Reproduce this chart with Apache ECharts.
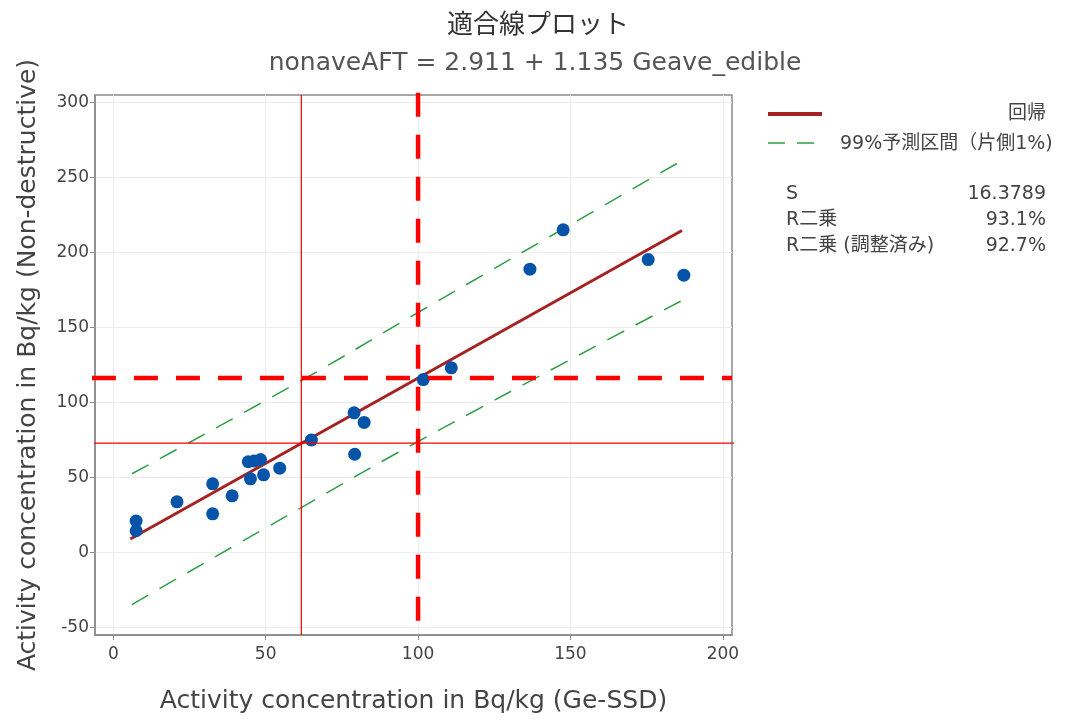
<!DOCTYPE html>
<html>
<head>
<meta charset="utf-8">
<script src="https://cdn.jsdelivr.net/npm/echarts@6/dist/echarts.min.js"></script>
<style>html,body{margin:0;padding:0;background:#fff}#c{width:1065px;height:719px}</style>
</head>
<body>
<div id="c"></div>
<script>
// Observed data
const geX = [7.5, 7.5, 20.9, 32.6, 32.6, 39.0, 44.3, 46.2, 48.3, 45.0, 49.3, 54.6, 65.0, 79.0, 82.3, 79.2, 101.7, 110.9, 136.7, 147.6, 175.5, 187.2];
const ndY = [21.0, 14.5, 33.8, 45.8, 25.8, 37.8, 60.5, 61.0, 62.0, 49.1, 51.8, 56.2, 75.0, 93.1, 86.7, 65.5, 115.3, 123.1, 188.9, 215.1, 195.3, 184.9];
// Fitted line
const fitX = [5.6, 186.6];
const fitY = [9.0, 214.7];
// 99% prediction interval
const piX = [6.1, 62, 100, 186.6];
const piUpper = [52.5, 115.0, 160.0, 261.3];
const piLower = [-34.7, 30.3, 74.0, 168.0];
// Reference lines
const thinRefX = 61.7, thinRefY = 72.9;
const dashRefX = 100, dashRefY = 116.4;
// Axis ranges and ticks
const xMin = -6, xMax = 203, yMin = -55, yMax = 305;
const xTicks = [0, 50, 100, 150, 200];
const yTicks = [-50, 0, 50, 100, 150, 200, 250, 300];
// Texts
const titleText = '適合線プロット';
const subtitleText = 'nonaveAFT = 2.911 + 1.135 Geave_edible';
const xName = 'Activity concentration in Bq/kg (Ge-SSD)';
const yName = 'Activity concentration in Bq/kg (Non-destructive)';
const legendNames = ['回帰', '99%予測区間（片側1%)'];
const statNames = ['S', 'R二乗', 'R二乗 (調整済み)'];
const statValues = ['16.3789', '93.1%', '92.7%'];

const zip = (a, b) => a.map((v, i) => [v, b[i]]);
const FONT = '"DejaVu Sans", "Noto Sans CJK JP", sans-serif';
const LFONT = '"Noto Sans CJK JP", sans-serif';
const TXT = '#444';
const RED = '#ff0000';
const chart = echarts.init(document.getElementById('c'), null, {renderer: 'canvas'});

const LEG = '19px ' + FONT;
const graphics = [
  {type: 'line', shape: {x1: 768, y1: 114, x2: 822, y2: 114}, style: {stroke: '#a52222', lineWidth: 4}},
  {type: 'text', style: {x: 1046, y: 114, text: legendNames[0], align: 'right', verticalAlign: 'middle', fill: TXT, font: LEG}},
  {type: 'line', shape: {x1: 768, y1: 143, x2: 822, y2: 143}, style: {stroke: '#2f9e44', lineWidth: 1.5, lineDash: [17, 12]}},
  {type: 'text', style: {x: 840, y: 144, text: legendNames[1], align: 'left', verticalAlign: 'middle', fill: TXT, font: LEG}}
];
const statY = [194, 220, 246];
statNames.forEach((n, i) => {
  graphics.push({type: 'text', style: {x: 786, y: statY[i], text: n, align: 'left', verticalAlign: 'middle', fill: TXT, font: LEG}});
  graphics.push({type: 'text', style: {x: 1046, y: statY[i], text: statValues[i], align: 'right', verticalAlign: 'middle', fill: TXT, font: LEG}});
});

const axisCommon = {
  type: 'value',
  nameLocation: 'middle',
  nameTextStyle: {fontSize: 25, color: TXT, fontFamily: FONT},
  axisLine: {show: true, onZero: false, lineStyle: {color: '#8a8a8a', width: 1.5}},
  axisTick: {show: true, length: 5, lineStyle: {color: '#8a8a8a'}},
  axisLabel: {fontSize: 17, color: TXT, fontFamily: FONT},
  splitLine: {show: true, lineStyle: {color: '#ececec', width: 1}}
};

const refLine = (data, width, type) => ({
  type: 'line', data: data, symbol: 'none', silent: true, clip: false, z: 5,
  lineStyle: {color: RED, width: width, type: type}
});

chart.setOption({
  backgroundColor: '#fff',
  animation: false,
  title: [
    {text: titleText, left: 533, top: 5, textAlign: 'center', textStyle: {fontSize: 26, fontWeight: 'normal', color: '#333', fontFamily: LFONT}},
    {text: subtitleText, left: 530, top: 46, textAlign: 'center', textStyle: {fontSize: 25, fontWeight: 'normal', color: '#555', fontFamily: FONT}}
  ],
  grid: {left: 95, right: 333, top: 95, bottom: 84, show: true, borderColor: '#8a8a8a', borderWidth: 1.5, backgroundColor: 'transparent'},
  xAxis: Object.assign({}, axisCommon, {
    min: xMin, max: xMax, name: xName, nameGap: 54,
    axisTick: Object.assign({}, axisCommon.axisTick, {customValues: xTicks}),
    axisLabel: Object.assign({}, axisCommon.axisLabel, {customValues: xTicks, margin: 11})
  }),
  yAxis: Object.assign({}, axisCommon, {
    min: yMin, max: yMax, name: yName, nameGap: 54,
    axisTick: Object.assign({}, axisCommon.axisTick, {customValues: yTicks}),
    axisLabel: Object.assign({}, axisCommon.axisLabel, {customValues: yTicks, margin: 6})
  }),
  graphic: graphics,
  series: [
    {
      type: 'line', name: 'upper', data: zip(piX, piUpper), symbol: 'none', smooth: true,
      lineStyle: {color: '#2f9e44', width: 1.5, type: [19, 13]}, z: 2
    },
    {
      type: 'line', name: 'lower', data: zip(piX, piLower), symbol: 'none', smooth: true,
      lineStyle: {color: '#2f9e44', width: 1.5, type: [19, 13]}, z: 2
    },
    {
      type: 'line', name: 'fit', data: zip(fitX, fitY), symbol: 'none',
      lineStyle: {color: '#a52222', width: 3}, z: 3
    },
    {
      type: 'scatter', name: 'data', data: zip(geX, ndY), symbol: 'circle', symbolSize: 13,
      itemStyle: {color: '#0654a8', opacity: 1}, z: 4
    },
    refLine([[thinRefX, yMin], [thinRefX, yMax]], 1.2, 'solid'),
    refLine([[xMin - 2.3, thinRefY], [xMax + 1.6, thinRefY]], 1.2, 'solid'),
    refLine([[dashRefX, yMax + 1.5], [dashRefX, yMin]], 4.5, [24, 18]),
    refLine([[xMin - 1, dashRefY], [xMax, dashRefY]], 4.5, [24, 18])
  ]
});
</script>
</body>
</html>
